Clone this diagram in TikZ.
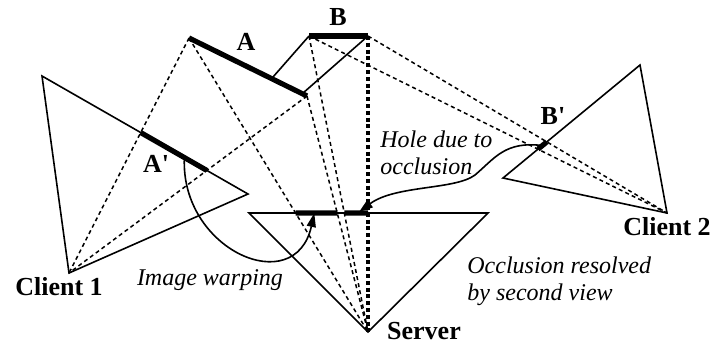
\documentclass[tikz,border=0pt]{standalone}
\usepackage{fontspec}
\setmainfont{Liberation Serif}[
  BoldFont={Liberation Serif Bold},
  ItalicFont={Liberation Serif Italic},
  BoldItalicFont={Liberation Serif Bold Italic}]
\usetikzlibrary{arrows.meta,calc}

\tikzset{
  view/.style={line width=0.8pt},
  ray/.style={line width=0.75pt,dash pattern=on 2pt off 1.6pt},
  bigray/.style={line width=1.7pt,dash pattern=on 2pt off 1.4pt},
  surf/.style={line width=2.6pt},
  lbl/.style={font=\fontsize{13}{15}\selectfont\bfseries,inner sep=0pt},
  note/.style={font=\fontsize{12}{13.5}\selectfont\itshape,align=left,inner sep=0pt},
}

\begin{document}
\begin{tikzpicture}[x=0.5pt,y=-0.5pt,>={Triangle[length=7pt,width=4.5pt]},line join=miter]
\useasboundingbox (0,0) rectangle (711,344);
% centres of projection
\coordinate (cam1) at (69,273);
\coordinate (cam2) at (667,213);
\coordinate (srv) at (368,332);
% image planes
\coordinate (p1a) at (42,76);
\coordinate (p1b) at (248,194);
\coordinate (p2a) at (640,65);
\coordinate (p2b) at (503,178);
\coordinate (s1) at (249,213);
\coordinate (s2) at (488,213);
% scene surfaces
\coordinate (A1) at (189,38);
\coordinate (A2) at (307,96);
\coordinate (B1) at (309,36);
\coordinate (B2) at (368,36);
% projections
\coordinate (ap1) at (intersection of A1--cam1 and p1a--p1b);
\coordinate (ap2) at (intersection of A2--cam1 and p1a--p1b);
\coordinate (bp1) at (intersection of B1--cam2 and p2a--p2b);
\coordinate (bp2) at (intersection of B2--cam2 and p2a--p2b);
\coordinate (sa1) at (intersection of A1--srv and s1--s2);
\coordinate (sa2) at (intersection of A2--srv and s1--s2);
\coordinate (sb1) at (intersection of B1--srv and s1--s2);
\coordinate (sb2) at (B2 |- s1);

% rays
\draw[ray] (A1) -- (cam1);
\draw[ray] (A2) -- (cam1);
\draw[ray] (A1) -- (srv);
\draw[ray] (A2) -- (srv);
\draw[ray] (B1) -- (srv);
\draw[ray] (B1) -- (cam2);
\draw[ray] (B2) -- (cam2);
\draw[bigray] (B2) -- (srv);

% view frusta
\draw[view] (p1a) -- (cam1) -- (p1b) -- cycle;
\draw[view] (p2a) -- (cam2) -- (p2b) -- cycle;
\draw[view] (s1) -- (srv) -- (s2) -- cycle;

% surfaces and their images
\draw[view] (B1) -- ($(A1)!0.7!(A2)$);
\draw[view] (B2) -- ($(A1)!0.96!(A2)$);
\draw[surf] (A1) -- (A2);
\draw[surf] (B1) -- (B2);
\draw[surf] (ap1) -- (ap2);
\draw[surf] (bp1) -- (bp2);
\draw[surf] (sa1) -- (sa2);
\draw[surf] (sb1) -- (sb2);

% arrows
\coordinate (warp0) at ($(ap1)!0.66!(ap2)$);
\coordinate (warp1) at ($(sa1)!0.45!(sa2)$);
\draw[view,->] (warp0) .. controls (180,250) and (295,300) .. (warp1);
\coordinate (hole0) at ($(bp1)!0.5!(bp2)$);
\coordinate (hole1) at (359,212);
\draw[view,->] (hole0) .. controls (505,141) and (495,158) .. (475,175)
  .. controls (455,190) and (395,185) .. (hole1);

% labels
\node[lbl] (l-a) at (246,42) {A};
\node[lbl] (l-b) at (338,17) {B};
\node[lbl] (l-ap) at (156,164) {A\textquotesingle};
\node[lbl] (l-bp) at (553,116) {B\textquotesingle};
\node[lbl] (l-c1) at (59,287) {Client 1};
\node[lbl] (l-c2) at (667,227) {Client 2};
\node[lbl] (l-srv) at (424,331) {Server};
\node[note] (l-warp) at (210,280) {Image warping};
\node[note,anchor=west] (l-hole) at (380,153) {Hole due to\\occlusion};
\node[note,anchor=west] (l-occ) at (467,281) {Occlusion resolved\\by second view};
\end{tikzpicture}
\end{document}
